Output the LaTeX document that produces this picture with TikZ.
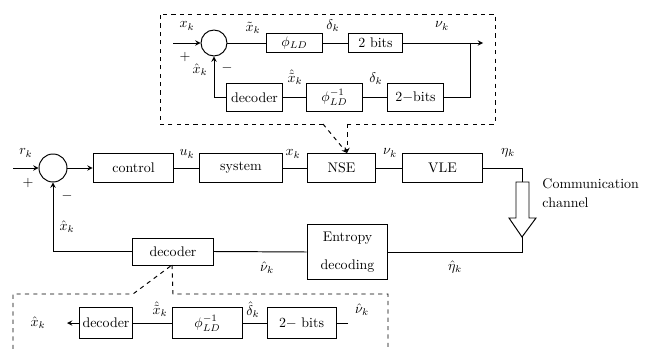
\documentclass[tikz,border=0pt]{standalone}
\usepackage{amsmath}
\usepackage{amssymb}
\usetikzlibrary{calc}

\tikzset{
    blk/.style={draw,line width=0.7pt,inner sep=1pt,minimum height=0.71cm},
    sumnode/.style={draw,line width=0.7pt,circle,inner sep=0pt},
    lbl/.style={inner sep=0pt}
}

\begin{document}
\begin{tikzpicture}[>=stealth,x=0.0252cm,y=-0.0252cm,line width=0.7pt]
            \useasboundingbox (0,0) rectangle (662,349);
            % NSE detail (top inset)
            \node[sumnode,minimum size=0.655cm] (sumA) at (214,43) {};
            \node[blk,minimum width=1.39cm,minimum height=0.48cm] (phiLD) at (294.5,43) {$\phi_{LD}$};
            \node[blk,minimum width=1.34cm,minimum height=0.48cm] (bitsA) at (375.5,43) {2 bits};
            \node[blk,minimum width=1.39cm,minimum height=0.73cm] (decA) at (254.5,97.5) {decoder};
            \node[blk,minimum width=1.39cm,minimum height=0.73cm] (phiInvA) at (334.5,97.5) {$\phi_{LD}^{-1}$};
            \node[blk,minimum width=1.39cm,minimum height=0.73cm] (bitsB) at (415.5,97.5) {2$-$bits};
            \coordinate (inA) at (173,43);
            \coordinate (brA) at (470,43);
            \coordinate (outA) at (483,43);
            \draw[->] (inA) -- (sumA.west);
            \draw (sumA.east) -- (phiLD.west);
            \draw (phiLD.east) -- (bitsA.west);
            \draw[->] (bitsA.east) -- (outA);
            \draw (brA) |- (bitsB.east);
            \draw (bitsB.west) -- (phiInvA.east);
            \draw (phiInvA.west) -- (decA.east);
            \draw[->] (decA.west) -| (sumA.south);
            \node[lbl] (xkA) at (187,26) {$x_k$};
            \node[lbl] (plusA) at (185,57) {$+$};
            \node[lbl] (xhA) at (200,70) {$\hat{x}_k$};
            \node[lbl] (minusA) at (227,68) {$-$};
            \node[lbl] (xtA) at (253,28) {$\tilde{x}_k$};
            \node[lbl] (dA) at (333,26) {$\delta_k$};
            \node[lbl] (nuA) at (442,26) {$\nu_k$};
            \node[lbl] (xhtA) at (295,77) {$\hat{\tilde{x}}_k$};
            \node[lbl] (dB) at (376,79) {$\delta_k$};
            % dashed callout to NSE
            \coordinate (tipA) at (347,153);
            \draw[dashed] (323,124) -- (160,124) -- (160,14) -- (495,14) -- (495,124) -- (347,124);
            \draw[dashed,->] (347,124) -- (tipA);
            \draw[dashed,->] (323,124) -- (tipA);
            % main loop
            \node[sumnode,minimum size=0.706cm] (sumM) at (53,168) {};
            \node[blk,minimum width=2.04cm] (control) at (133.5,168) {control};
            \node[blk,minimum width=2.07cm] (system) at (241,168) {system};
            \node[blk,minimum width=1.69cm] (nse) at (341.5,168) {NSE};
            \node[blk,minimum width=2.04cm] (vle) at (442.5,168) {VLE};
            \node[blk,minimum width=2.04cm,minimum height=1.41cm,align=center] (entropy) at (347.5,252) {Entropy\\[8pt]decoding};
            \node[blk,minimum width=2.02cm,minimum height=0.68cm] (decM) at (173,251.5) {decoder};
            \coordinate (inM) at (13,168);
            \coordinate (chTop) at (522,182);
            \coordinate (chTip) at (522,237);
            \draw[->] (inM) -- (sumM.west);
            \draw[->] (sumM.east) -- (control.west);
            \draw (control.east) -- (system.west);
            \draw (system.east) -- (nse.west);
            \draw (nse.east) -- (vle.west);
            \draw (vle.east) -| (chTop);
            % channel arrow
            \draw (516,182) -- (529,182) -- (529,218) -- (536,218) -- (chTip) -- (509,218) -- (516,218) -- cycle;
            \node[anchor=west,align=left,lbl] (comm) at (542,193) {Communication\\[2pt]channel};
            \draw (chTip) |- (entropy.east);
            \draw (entropy.west) -- (decM.east);
            \draw[->] (decM.west) -| (sumM.south);
            \node[lbl] (rk) at (26,153) {$r_k$};
            \node[lbl] (plusM) at (28,183) {$+$};
            \node[lbl] (minusM) at (67,196) {$-$};
            \node[lbl] (xhM) at (67,227) {$\hat{x}_k$};
            \node[lbl] (uk) at (187,154) {$u_k$};
            \node[lbl] (xkM) at (293,154) {$x_k$};
            \node[lbl] (nuM) at (390,153) {$\nu_k$};
            \node[lbl] (etak) at (508,153) {$\eta_k$};
            \node[lbl] (etah) at (455,267) {$\hat{\eta}_k$};
            \node[lbl] (nuh) at (267,268) {$\hat{\nu}_k$};
            % decoder detail (bottom inset)
            \node[blk,minimum width=1.36cm,minimum height=0.76cm] (decB) at (106,323) {decoder};
            \node[blk,minimum width=1.74cm,minimum height=0.76cm] (phiInvB) at (207.5,323) {$\phi_{LD}^{-1}$};
            \node[blk,minimum width=1.74cm,minimum height=0.76cm] (bitsC) at (301.5,323) {$2-$ bits};
            \coordinate (inB) at (348,323);
            \coordinate (outB) at (67,323);
            \draw (inB) -- (bitsC.east);
            \draw (bitsC.west) -- (phiInvB.east);
            \draw (phiInvB.west) -- (decB.east);
            \draw[->] (decB.west) -- (outB);
            \node[lbl] (xhB) at (38,323) {$\hat{x}_k$};
            \node[lbl] (xhtB) at (160,309) {$\hat{\tilde{x}}_k$};
            \node[lbl] (dhB) at (253,310) {$\hat{\delta}_k$};
            \node[lbl] (nuhB) at (362,310) {$\hat{\nu}_k$};
            % dashed callout from decoder
            \coordinate (tipB) at (172,265);
            \draw[dashed] (13,349) -- (13,294) -- (133,294) -- (tipB);
            \draw[dashed] (tipB) -- (173,294) -- (388,294) -- (388,349);
        \end{tikzpicture}
\end{document}
